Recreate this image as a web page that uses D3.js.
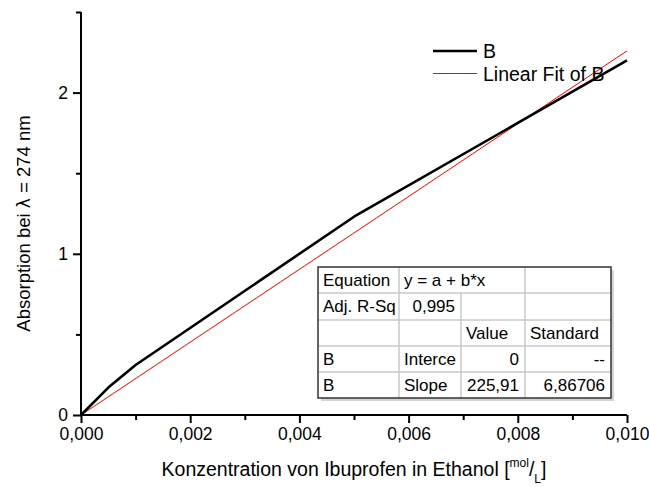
<!DOCTYPE html>
<html>
<head>
    <meta charset="utf-8">
    <script src="https://d3js.org/d3.v7.min.js"></script>
    <style>
        body { margin: 0; background: #fff; }
        text { font-family: "Liberation Sans", Arial, sans-serif; }
    </style>
</head>
<body>
    <svg id="chart"></svg>

    <script>
        var Width = 649, Height = 487;
        var Left = 81, Right = 627, Top = 12, Bottom = 415;

        // measured data (B) and fit result
        var conc = [0, 0.0005, 0.001, 0.005, 0.010];
        var absorb = [0, 0.17, 0.31, 1.23, 2.20];
        var fitSlope = 225.91;
        var fitX = [0, 0.010];

        var xMajor = [0, 0.002, 0.004, 0.006, 0.008, 0.010];
        var xMinor = [0.001, 0.003, 0.005, 0.007, 0.009];
        var yMajor = [0, 1, 2];
        var yMinor = [0.5, 1.5, 2.5];

        var legendLabels = ["B", "Linear Fit of B"];
        var legendColors = ["#000", "#ff0000"];

        var tableRows = [
            ["Equation", "y = a + b*x", "", ""],
            ["Adj. R-Sq", "0,995", "", ""],
            ["", "", "Value", "Standard"],
            ["B", "Interce", "0", "--"],
            ["B", "Slope", "225,91", "6,86706"]
        ];
        var tableAlign = [
            ["start", "start", "start", "start"],
            ["start", "end", "start", "start"],
            ["start", "start", "start", "start"],
            ["start", "start", "end", "end"],
            ["start", "start", "end", "end"]
        ];

        var svg = d3.select("#chart")
            .attr("width", Width)
            .attr("height", Height);

        var x = d3.scaleLinear().domain([0, 0.010]).range([Left, Right]);
        var y = d3.scaleLinear().domain([0, 2.5]).range([Bottom, Top]);

        var comma = function(f) { return function(d) { return d3.format(f)(d).replace(".", ","); }; };

        // table
        var colX = [318, 399, 461, 525, 611];
        var rowY = [267, 293, 320, 346, 372, 398];
        var tbl = svg.append("g");
        tbl.append("rect")
            .attr("x", colX[0] + 3).attr("y", rowY[0] + 3)
            .attr("width", colX[4] - colX[0]).attr("height", rowY[5] - rowY[0])
            .attr("fill", "#d4d4d4");
        tbl.append("rect")
            .attr("x", colX[0]).attr("y", rowY[0])
            .attr("width", colX[4] - colX[0]).attr("height", rowY[5] - rowY[0])
            .attr("fill", "#fff");
        for (var r = 1; r < 5; r++) {
            tbl.append("line")
                .attr("x1", colX[0]).attr("x2", colX[4])
                .attr("y1", rowY[r]).attr("y2", rowY[r])
                .attr("stroke", "#c8c8c8").attr("stroke-width", 1.5);
        }
        for (var r = 0; r < 5; r++) {
            for (var c = 1; c < 4; c++) {
                if (r === 0 && c === 2) continue;
                tbl.append("line")
                    .attr("x1", colX[c]).attr("x2", colX[c])
                    .attr("y1", rowY[r]).attr("y2", rowY[r + 1])
                    .attr("stroke", "#c8c8c8").attr("stroke-width", 1.5);
            }
        }
        tbl.append("rect")
            .attr("x", colX[0]).attr("y", rowY[0])
            .attr("width", colX[4] - colX[0]).attr("height", rowY[5] - rowY[0])
            .attr("fill", "none").attr("stroke", "#333").attr("stroke-width", 1.5);
        tableRows.forEach(function(row, r) {
            row.forEach(function(txt, c) {
                if (!txt) return;
                var a = tableAlign[r][c];
                tbl.append("text")
                    .attr("x", a === "end" ? colX[c + 1] - 6 : colX[c] + 5)
                    .attr("y", rowY[r] + 19)
                    .attr("text-anchor", a)
                    .attr("font-size", 17)
                    .text(txt);
            });
        });

        // axes
        var xAxis = svg.append("g").attr("transform", "translate(0," + Bottom + ")");
        xAxis.call(d3.axisBottom(x).tickValues(xMajor).tickSize(8).tickPadding(5).tickFormat(comma(".3f")));
        xAxis.append("g").call(d3.axisBottom(x).tickValues(xMinor).tickSize(5).tickFormat(""));
        var yAxis = svg.append("g").attr("transform", "translate(" + Left + ",0)");
        yAxis.call(d3.axisLeft(y).tickValues(yMajor).tickSize(8).tickPadding(5).tickFormat(d3.format("d")));
        yAxis.append("g").call(d3.axisLeft(y).tickValues(yMinor).tickSize(5).tickFormat(""));

        svg.selectAll(".domain").attr("stroke", "#000").attr("stroke-width", 2);
        svg.selectAll(".tick line").attr("stroke", "#000").attr("stroke-width", 2);
        svg.selectAll(".tick text")
            .attr("font-size", 17.5)
            .attr("fill", "#000")
            .style("font-family", "'Liberation Sans', Arial, sans-serif");
        xAxis.selectAll(".domain").attr("d", "M" + Left + ",0H" + Right);
        yAxis.selectAll(".domain").attr("d", "M0," + Top + "V" + Bottom);

        // lines
        var lineGen = d3.line().x(function(d) { return x(d[0]); }).y(function(d) { return y(d[1]); });
        svg.append("path")
            .datum(fitX.map(function(v) { return [v, fitSlope * v]; }))
            .attr("d", lineGen)
            .attr("fill", "none").attr("stroke", "#ff0000").attr("stroke-width", 1);
        svg.append("path")
            .datum(conc.map(function(v, i) { return [v, absorb[i]]; }))
            .attr("d", lineGen)
            .attr("fill", "none").attr("stroke", "#000").attr("stroke-width", 2.6)
            .attr("stroke-linejoin", "round");

        // legend
        var leg = svg.append("g");
        legendLabels.forEach(function(lbl, i) {
            var ly = 51 + i * 22.5;
            leg.append("line")
                .attr("x1", 433).attr("x2", 477).attr("y1", ly).attr("y2", ly)
                .attr("stroke", legendColors[i]).attr("stroke-width", i === 0 ? 2.6 : 1);
            leg.append("text")
                .attr("x", 483).attr("y", ly + 7)
                .attr("font-size", 19.5)
                .text(lbl);
        });

        // axis titles
        var xt = svg.append("text")
            .attr("x", (Left + Right) / 2).attr("y", 476)
            .attr("text-anchor", "middle")
            .attr("font-size", 19.5);
        xt.append("tspan").text("Konzentration von Ibuprofen in Ethanol [");
        xt.append("tspan").attr("font-size", 12).attr("dy", -9).text("mol");
        xt.append("tspan").attr("dy", 9).text("/");
        xt.append("tspan").attr("font-size", 12).attr("dy", 7).text("L");
        xt.append("tspan").attr("dy", -7).text("]");

        var yt = svg.append("text")
            .attr("transform", "translate(30," + ((Top + Bottom) / 2 + 10) + ") rotate(-90)")
            .attr("text-anchor", "middle")
            .attr("font-size", 18.5);
        yt.append("tspan").text("Absorption bei ");
        yt.append("tspan").style("font-family", "'DejaVu Sans', sans-serif").attr("font-size", 17).text("λ");
        yt.append("tspan").text(" = 274 nm");
    </script>
</body>
</html>
